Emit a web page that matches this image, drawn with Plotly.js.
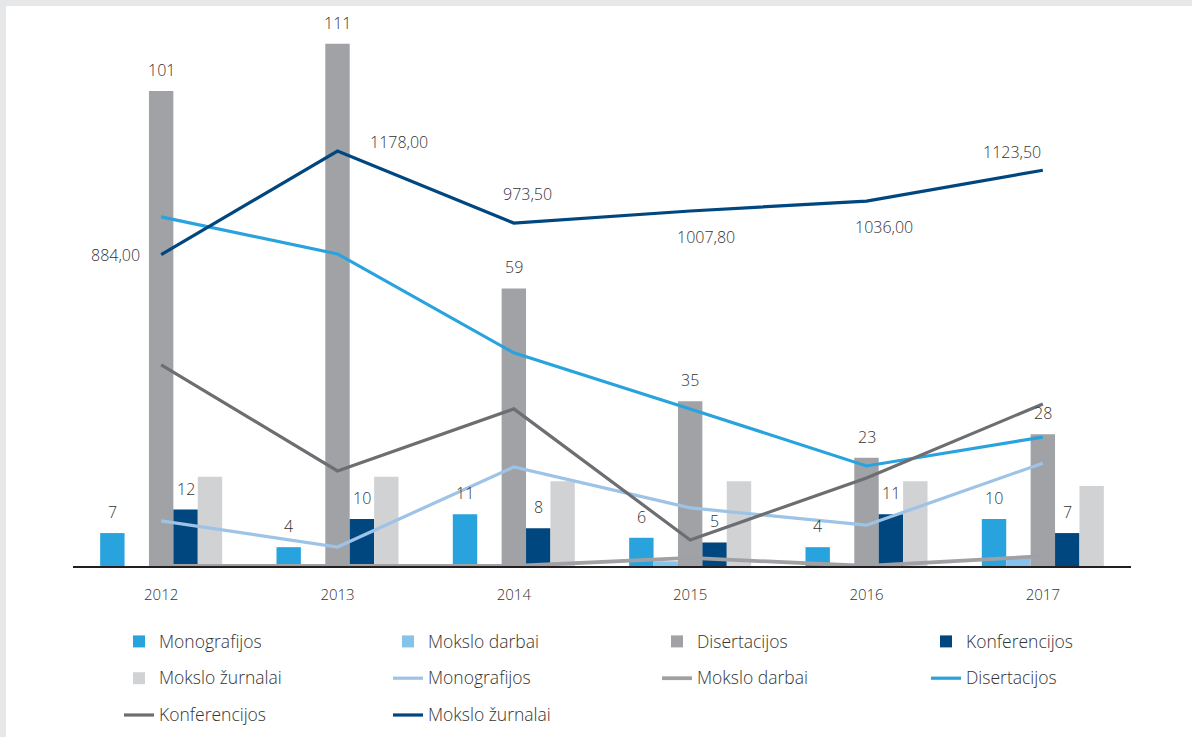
<!DOCTYPE html>
<html>
<head>
<meta charset="utf-8">
<script src="https://cdn.plot.ly/plotly-3.0.1.min.js"></script>
<style>
html,body{margin:0;padding:0;background:#e6e7e8;width:1192px;height:737px;overflow:hidden}
#chart{position:absolute;left:6px;top:6px;width:1186px;height:731px;background:#fff}
</style>
</head>
<body>
<div id="chart"></div>
<script>
// ---- data ----
const years = ['2012', '2013', '2014', '2015', '2016', '2017'];
const seriesNames = ['Monografijos', 'Mokslo darbai', 'Disertacijos', 'Konferencijos', 'Mokslo žurnalai'];

// bars (left axis)
const barMonografijos = [7, 4, 11, 6, 4, 10];
const barMoksloDarbai = [0, 0, 0, 1, 0, 2];
const barDisertacijos = [101, 111, 59, 35, 23, 28];
const barKonferencijos = [12, 10, 8, 5, 11, 7];
const barZurnalai = [19, 19, 18, 18, 18, 17];

// lines (right, hidden axis)
const lineMonografijos = [128, 54, 281, 165, 116, 292];
const lineMoksloDarbai = [0, 0, 0, 23, 0, 28];
const lineDisertacijos = [991, 886, 605, 446, 284, 366];
const lineKonferencijos = [571, 270, 446, 74, 250, 460];
const lineZurnalai = [884.00, 1178.00, 973.50, 1007.80, 1036.00, 1123.50];

// ---- styles ----
const barColors = ['#29a3dd', '#85c3ea', '#a1a2a6', '#00467f', '#d1d2d4'];
const lineColors = ['#9dc3e6', '#a0a1a4', '#29a3dd', '#6d6e71', '#00467f'];
const textColor = '#333333';
const FONT = 'Open Sans, Noto Sans, sans-serif';

const barSeries = [barMonografijos, barMoksloDarbai, barDisertacijos, barKonferencijos, barZurnalai];
const lineSeries = [lineMonografijos, lineMoksloDarbai, lineDisertacijos, lineKonferencijos, lineZurnalai];

const legendName = n => '<span style="font-size:17.5px;baseline-shift:4px">' + n + '</span>';

const traces = [];
barSeries.forEach((vals, k) => {
  traces.push({
    type: 'bar', x: years, y: vals, name: legendName(seriesNames[k]),
    marker: {color: barColors[k], line: {width: 0}},
    yaxis: 'y', hoverinfo: 'none'
  });
});
lineSeries.forEach((vals, k) => {
  traces.push({
    type: 'scatter', mode: 'lines', x: years, y: vals, name: legendName(seriesNames[k]),
    line: {color: lineColors[k], width: k === 1 ? 3.8 : 3.2},
    yaxis: 'y2', hoverinfo: 'none', cliponaxis: false
  });
});

// bar labels: only three series are labelled
const bargap = 0.308;
const nBars = 5;
const barW = (1 - bargap) / nBars;
const barOffset = k => -(1 - bargap) / 2 + barW * (k + 0.5);
const labelled = [0, 2, 3];
const annotations = [];
labelled.forEach(k => {
  barSeries[k].forEach((v, i) => {
    annotations.push({
      x: i + barOffset(k), y: v, xref: 'x', yref: 'y',
      text: String(v), showarrow: false, yshift: 21,
      font: {family: FONT, size: 16, color: textColor, weight: 300}
    });
  });
});

// line labels for Mokslo žurnalai (pixel offsets from each point)
const zLabelShift = [[-46, 0], [61, 9], [14, 29], [16, -26], [17, -26], [-31, 18]];
lineZurnalai.forEach((v, i) => {
  annotations.push({
    x: i, y: v, xref: 'x', yref: 'y2',
    text: v.toFixed(2).replace('.', ','), showarrow: false,
    xshift: zLabelShift[i][0], yshift: zLabelShift[i][1],
    font: {family: FONT, size: 16, color: textColor, weight: 300}
  });
});

const layout = {
  width: 1186, height: 731,
  margin: {l: 67, r: 61, t: 20, b: 171, pad: 0, autoexpand: false},
  paper_bgcolor: '#ffffff', plot_bgcolor: 'rgba(0,0,0,0)',
  barmode: 'group', bargap: bargap, bargroupgap: 0,
  font: {family: FONT, size: 16, color: textColor, weight: 300},
  xaxis: {
    type: 'category', range: [-0.5, 5.5], showline: true, linecolor: '#231f20', linewidth: 1.5,
    ticks: '', tickfont: {size: 15, color: textColor}, ticklabelstandoff: 14,
    layer: 'below traces', showgrid: false, zeroline: false, fixedrange: true
  },
  yaxis: {range: [0, 114.8], visible: false, fixedrange: true},
  yaxis2: {range: [0, 1533], overlaying: 'y', side: 'right', visible: false, fixedrange: true},
  showlegend: true,
  legend: {
    orientation: 'h', xref: 'paper', yref: 'paper',
    x: (118 + 1071 - 67) / 1058, xanchor: 'right', y: -(612 - 560) / 540, yanchor: 'top',
    entrywidth: 224, font: {size: 26, color: textColor, family: FONT, weight: 300},
    traceorder: 'normal', bgcolor: 'rgba(0,0,0,0)'
  },
  annotations: annotations
};

Plotly.newPlot('chart', traces, layout, {displayModeBar: false, staticPlot: true});
</script>
</body>
</html>
